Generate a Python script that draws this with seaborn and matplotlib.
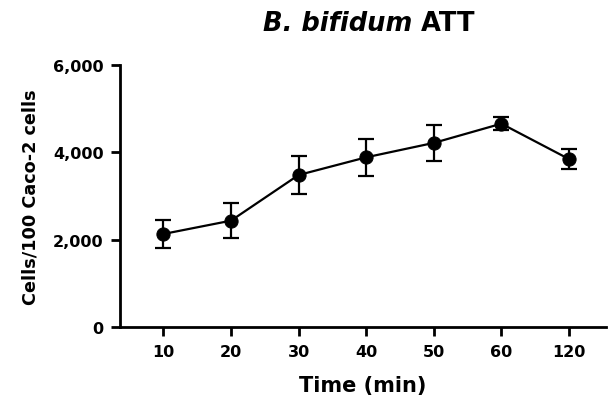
import numpy as np
import pandas as pd
import matplotlib
matplotlib.use("Agg")
import matplotlib.pyplot as plt
import seaborn as sns

times = ["10", "20", "30", "40", "50", "60", "120"]
means = [2130, 2435, 3480, 3885, 4215, 4655, 3845]
errs = [325, 395, 445, 420, 408, 155, 230]
yticks = [0, 2000, 4000, 6000]
ytick_labels = ["0", "2,000", "4,000", "6,000"]

sns.set_theme(style="ticks")
plt.rcParams['font.family'] = ['DejaVu Sans']
plt.rcParams['text.color'] = 'black'
plt.rcParams['axes.labelcolor'] = 'black'

df = pd.DataFrame({"Time": times, "Cells": means})

fig = plt.figure(figsize=(6.08, 4.02), dpi=100)
ax = fig.add_axes([0.197, 0.184, 0.80, 0.652])

sns.lineplot(data=df, x="Time", y="Cells", ax=ax, color="black", lw=1.6,
             marker="o", markersize=9.5, markeredgecolor="black", sort=False)
pos = np.arange(len(times))
ax.errorbar(pos, means, yerr=errs, fmt="none", ecolor="black",
            elinewidth=1.6, capsize=5.5, capthick=1.6)

ax.set_xlim(-0.645, 6.55)
ax.set_ylim(0, 6000)
ax.set_yticks(yticks)
ax.set_yticklabels(ytick_labels)
ax.set_xticks(pos)
ax.set_xticklabels(times)

for s in ["top", "right"]:
    ax.spines[s].set_visible(False)
for s in ["left", "bottom"]:
    ax.spines[s].set_linewidth(2)
    ax.spines[s].set_color("black")
ax.tick_params(axis="both", direction="out", length=6.5, width=2,
               colors="black", labelsize=11.5)
ax.tick_params(axis="y", pad=5)
ax.tick_params(axis="x", pad=6)
for lab in ax.get_xticklabels() + ax.get_yticklabels():
    lab.set_fontweight("bold")

ax.set_xlabel("Time (min)", fontsize=15, fontweight="bold", labelpad=11)
ax.set_ylabel("Cells/100 Caco-2 cells", fontsize=12.7, fontweight="bold", labelpad=10)

t1 = fig.text(0.678, 0.923, "B. bifidum", fontsize=18.5, fontweight="bold",
              fontstyle="italic", ha="right", va="baseline")
ax.annotate(" ATT", xy=(1, 0), xycoords=t1, fontsize=18.5, fontweight="bold",
            ha="left", va="bottom")

fig.savefig("out.png", dpi=100)
